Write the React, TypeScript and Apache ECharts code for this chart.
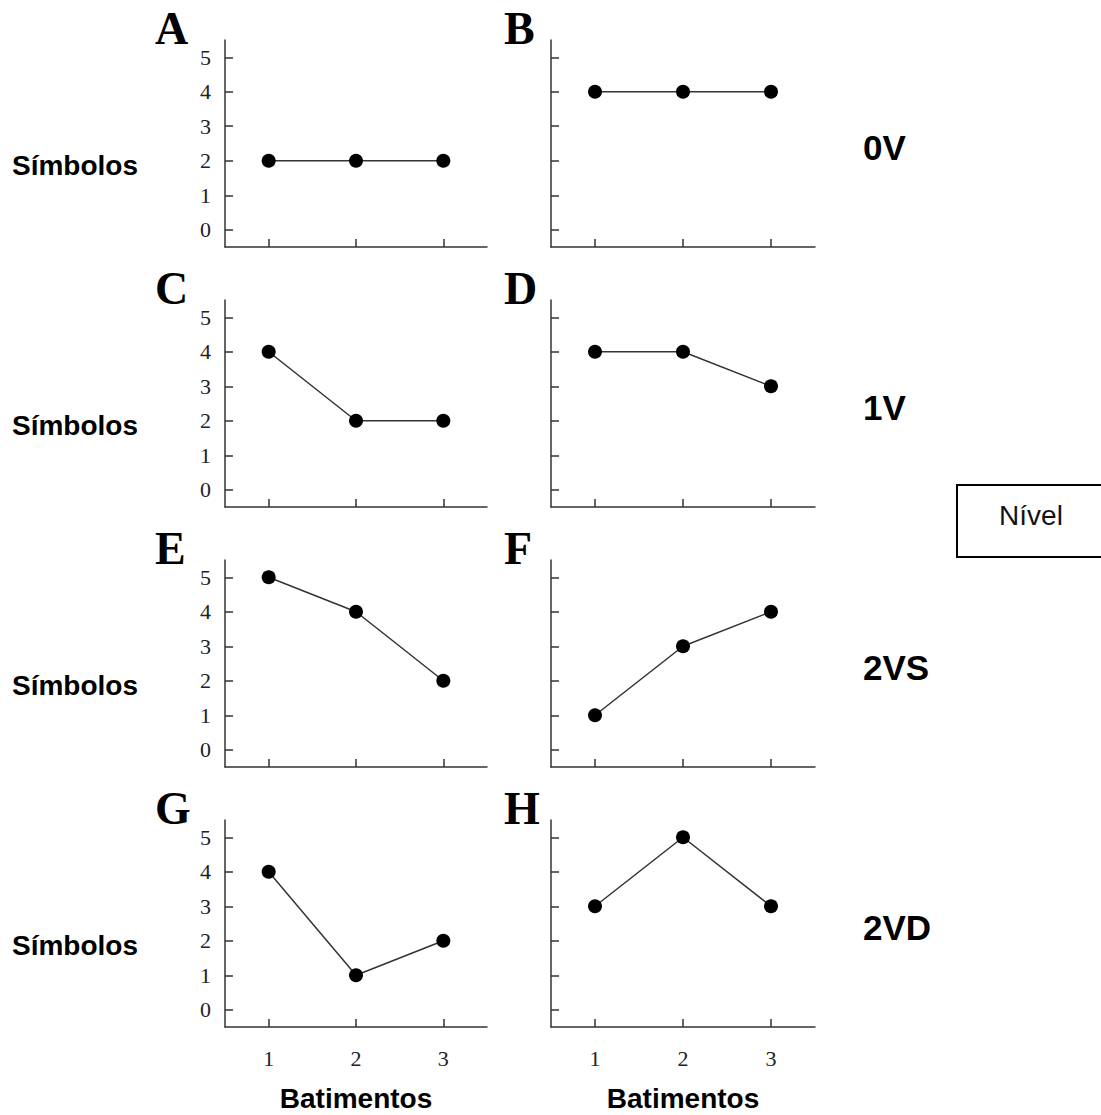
import React, { useEffect, useRef } from "react";
import * as echarts from "echarts";

const batimentos = ["1", "2", "3"];
const yTicks = [0, 1, 2, 3, 4, 5];
const panelLetters = ["A", "B", "C", "D", "E", "F", "G", "H"];
const levels = ["0V", "1V", "2VS", "2VD"];
const serieA = [2, 2, 2];
const serieB = [4, 4, 4];
const serieC = [4, 2, 2];
const serieD = [4, 4, 3];
const serieE = [5, 4, 2];
const serieF = [1, 3, 4];
const serieG = [4, 1, 2];
const serieH = [3, 5, 3];
const allSeries = [serieA, serieB, serieC, serieD, serieE, serieF, serieG, serieH];

const SERIF = "'Liberation Serif', 'Times New Roman', serif";
const SANS = "'Liberation Sans', Arial, sans-serif";

export default function App() {
  const ref = useRef<HTMLDivElement>(null);
  useEffect(() => {
    document.body.style.margin = "0";
    const chart = echarts.init(ref.current!, null, { renderer: "svg" });
    const colLeft = [225, 551];
    const colWidth = [262, 264];
    const rowTop = [40, 300, 560, 820];
    const gridH = 207;
    const grids: any[] = [];
    const xAxes: any[] = [];
    const yAxes: any[] = [];
    const series: any[] = [];
    const graphic: any[] = [];
    for (let i = 0; i < 8; i++) {
      const r = Math.floor(i / 2);
      const c = i % 2;
      grids.push({ left: colLeft[c], top: rowTop[r], width: colWidth[c], height: gridH });
      xAxes.push({
        type: "category",
        gridIndex: i,
        data: batimentos,
        boundaryGap: true,
        axisLine: { onZero: false, lineStyle: { color: "#333", width: 1.5 } },
        axisTick: { show: true, inside: true, alignWithLabel: true, length: 8, lineStyle: { color: "#333", width: 1.5 } },
        axisLabel: { show: r === 3, margin: 20, fontFamily: SERIF, fontSize: 22, color: "#222" },
        splitLine: { show: false },
      });
      yAxes.push({
        type: "value",
        gridIndex: i,
        min: -0.5,
        max: 5.5,
        axisLine: { show: true, onZero: false, lineStyle: { color: "#333", width: 1.5 } },
        axisTick: { show: true, inside: true, length: 8, customValues: yTicks, lineStyle: { color: "#333", width: 1.5 } },
        axisLabel: { show: c === 0, customValues: yTicks, margin: 14, fontFamily: SERIF, fontSize: 22, color: "#222" },
        splitLine: { show: false },
      });
      series.push({
        type: "line",
        xAxisIndex: i,
        yAxisIndex: i,
        data: allSeries[i],
        symbol: "circle",
        symbolSize: 14,
        itemStyle: { color: "#000" },
        lineStyle: { color: "#333", width: 1.5 },
      });
      graphic.push({
        type: "text",
        x: c === 0 ? 155 : 504,
        y: rowTop[r] - 12,
        style: { text: panelLetters[i], font: `bold 46px ${SERIF}`, fill: "#000", textAlign: "left", textVerticalAlign: "middle" },
      });
    }
    for (let r = 0; r < 4; r++) {
      graphic.push({
        type: "text",
        x: 12,
        y: 165 + 260 * r,
        style: { text: "Símbolos", font: `bold 28px ${SANS}`, fill: "#000", textAlign: "left", textVerticalAlign: "middle" },
      });
      graphic.push({
        type: "text",
        x: 863,
        y: 147 + 260 * r,
        style: { text: levels[r], font: `bold 35px ${SANS}`, fill: "#000", textAlign: "left", textVerticalAlign: "middle" },
      });
    }
    for (let c = 0; c < 2; c++) {
      graphic.push({
        type: "text",
        x: colLeft[c] + colWidth[c] / 2,
        y: 1098,
        style: { text: "Batimentos", font: `bold 28px ${SANS}`, fill: "#000", textAlign: "center", textVerticalAlign: "middle" },
      });
    }
    graphic.push({
      type: "rect",
      shape: { x: 957, y: 485, width: 160, height: 72 },
      style: { fill: "none", stroke: "#000", lineWidth: 2 },
    });
    graphic.push({
      type: "text",
      x: 1031,
      y: 515,
      style: { text: "Nível", font: `28px ${SANS}`, fill: "#111", textAlign: "center", textVerticalAlign: "middle" },
    });

    chart.setOption({
      animation: false,
      backgroundColor: "#fff",
      grid: grids,
      xAxis: xAxes,
      yAxis: yAxes,
      series,
      graphic,
    });
    return () => chart.dispose();
  }, []);
  return <div ref={ref} style={{ width: 1101, height: 1115 }} />;
}
